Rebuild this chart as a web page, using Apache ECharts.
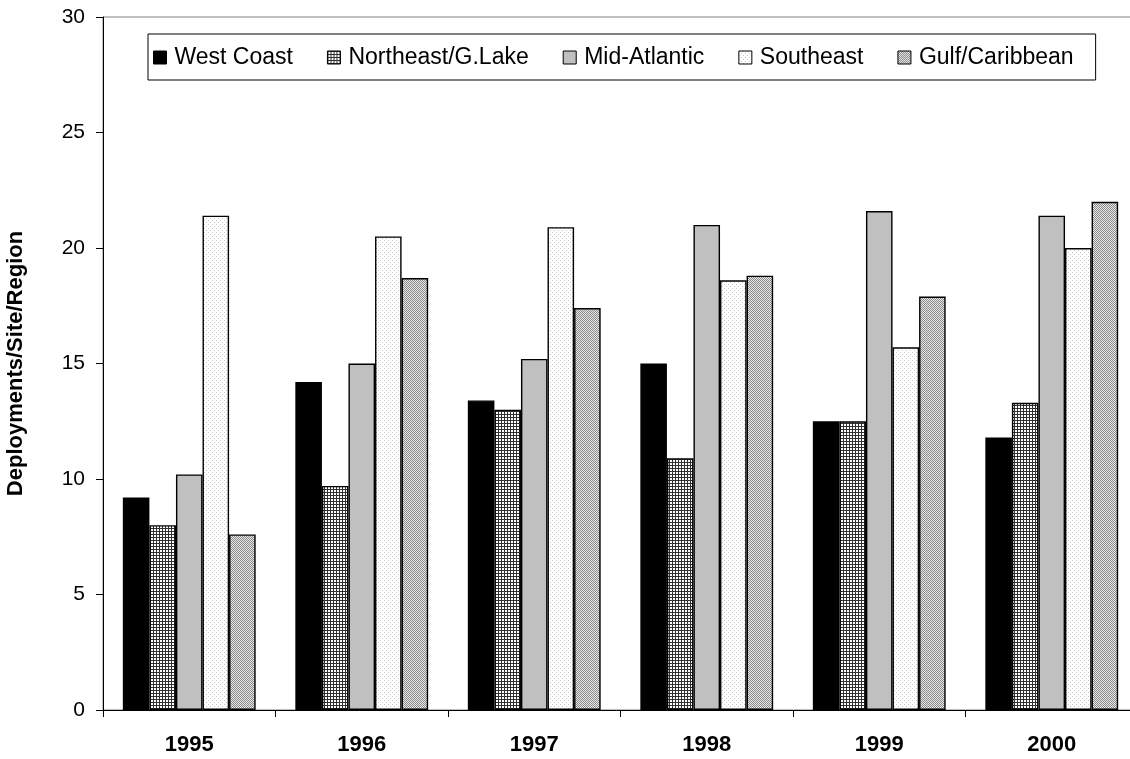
<!DOCTYPE html>
<html>
<head>
<meta charset="utf-8">
<script src="https://cdn.jsdelivr.net/npm/echarts@6/dist/echarts.min.js"></script>
<style>
  html, body { margin: 0; padding: 0; background: #fff; }
  #chart { width: 1130px; height: 759px; }
</style>
</head>
<body>
<div id="chart"></div>
<script>
// Deployments per site per region, 1995-2000
const years = ['1995', '1996', '1997', '1998', '1999', '2000'];
const westCoast     = [9.2, 14.2, 13.4, 15.0, 12.5, 11.8];
const northeastGL   = [8.0, 9.7, 13.0, 10.9, 12.5, 13.3];
const midAtlantic   = [10.2, 15.0, 15.2, 21.0, 21.6, 21.4];
const southeast     = [21.4, 20.5, 20.9, 18.6, 15.7, 20.0];
const gulfCaribbean = [7.6, 18.7, 17.4, 18.8, 17.9, 22.0];
const yTicks = { min: 0, max: 30, step: 5 };

// Small repeating tiles used as bar fills
function tile(size, draw) {
  const c = document.createElement('canvas');
  c.width = size; c.height = size;
  const g = c.getContext('2d');
  draw(g);
  return { image: c, repeat: 'repeat' };
}
const gridFill = tile(3, g => {
  g.fillStyle = '#ffffff'; g.fillRect(0, 0, 3, 3);
  g.fillStyle = '#303030';
  g.fillRect(0, 0, 3, 1);
  g.fillRect(0, 0, 1, 3);
});
const dotFill = tile(4, g => {
  g.fillStyle = '#ffffff'; g.fillRect(0, 0, 4, 4);
  g.fillStyle = '#c8c8c8';
  g.fillRect(0, 0, 1, 1);
  g.fillRect(2, 2, 1, 1);
});
const checkFill = tile(2, g => {
  g.fillStyle = '#e6e6e6'; g.fillRect(0, 0, 2, 2);
  g.fillStyle = '#8c8c8c';
  g.fillRect(0, 0, 1, 1);
  g.fillRect(1, 1, 1, 1);
});

const font = '"Liberation Sans", Arial, sans-serif';
function barSeries(name, data, fill) {
  return {
    name, type: 'bar', data,
    barGap: '0%', barCategoryGap: '23%',
    itemStyle: { color: fill, borderColor: '#000', borderWidth: 1.4 },
    emphasis: { disabled: true },
    animation: false
  };
}

const chart = echarts.init(document.getElementById('chart'), null, { renderer: 'canvas' });
chart.setOption({
  animation: false,
  backgroundColor: '#fff',
  // plot area runs slightly past the right edge of the canvas
  grid: {
    left: 103, top: 17, width: 1035, height: 693,
    outerBoundsMode: 'none', containLabel: false,
    show: true, borderColor: '#808080', borderWidth: 1
  },
  legend: {
    left: 148, top: 34,
    padding: [12, 22, 11, 5],
    itemWidth: 13, itemHeight: 13, itemGap: 34,
    borderColor: '#000', borderWidth: 1, backgroundColor: '#fff',
    icon: 'rect',
    itemStyle: { borderColor: '#000', borderWidth: 1 },
    textStyle: { fontFamily: font, fontSize: 23, color: '#000', padding: [0, 0, 0, 3] },
    selectedMode: false
  },
  xAxis: {
    type: 'category', data: years, boundaryGap: true,
    axisLine: { lineStyle: { color: '#000', width: 1 } },
    axisTick: { show: true, length: 7, lineStyle: { color: '#000' } },
    axisLabel: { fontFamily: font, fontSize: 22, fontWeight: 'bold', color: '#000', margin: 24 }
  },
  yAxis: {
    type: 'value', min: yTicks.min, max: yTicks.max, interval: yTicks.step,
    name: 'Deployments/Site/Region', nameLocation: 'middle', nameGap: 76, nameRotate: 90,
    nameTextStyle: { fontFamily: font, fontSize: 22, fontWeight: 'bold', color: '#000' },
    axisLine: { show: true, lineStyle: { color: '#000', width: 1 } },
    axisTick: { show: true, length: 7, lineStyle: { color: '#000' } },
    splitLine: { show: false },
    axisLabel: { fontFamily: font, fontSize: 21, color: '#000', margin: 18 }
  },
  series: [
    barSeries('West Coast', westCoast, '#000000'),
    barSeries('Northeast/G.Lake', northeastGL, gridFill),
    barSeries('Mid-Atlantic', midAtlantic, '#c0c0c0'),
    barSeries('Southeast', southeast, dotFill),
    barSeries('Gulf/Caribbean', gulfCaribbean, checkFill)
  ]
});
</script>
</body>
</html>
